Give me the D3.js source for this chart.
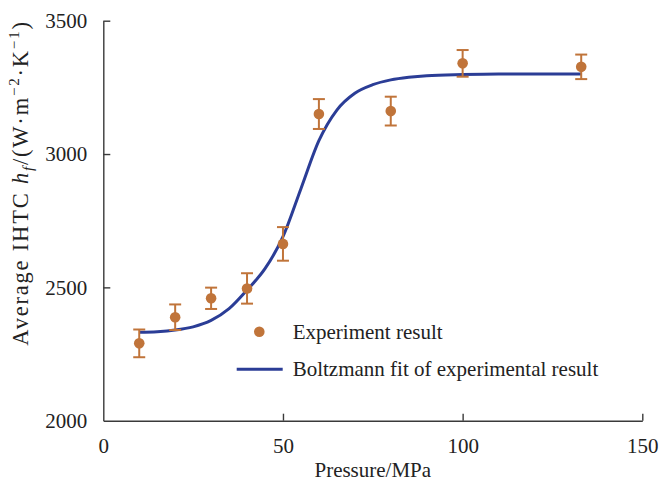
<!DOCTYPE html>
<html lang="en">
<head>
<meta charset="UTF-8">
<script src="https://cdnjs.cloudflare.com/ajax/libs/d3/7.8.5/d3.min.js"></script>
<style>
body { margin: 0; background: white; }
svg { display: block; font-family: "Liberation Serif", "Times New Roman", "DejaVu Serif", serif; }
.axis path, .axis line { stroke: #3a3a3a; stroke-width: 1.4; fill: none; }
.axis text { font-size: 21px; fill: #222; font-family: "Liberation Serif", "Times New Roman", serif; }
</style>
</head>
<body>
<script>
// experiment points
var pressure = [10, 20, 30, 40, 50, 60, 80, 100, 133];
var ihtc = [2290, 2388, 2459, 2496, 2663, 3150, 3161, 3340, 3327];
var errBar = [52, 48, 40, 57, 63, 56, 54, 50, 46];

// Boltzmann fit
var fitPressure = [10, 15, 20, 25, 30, 35, 40, 45, 50, 55, 60, 65, 70, 75, 80, 85, 90, 100, 110, 120, 133];
var fitIhtc = [2332, 2334, 2340, 2352, 2376, 2420, 2490, 2570, 2690, 2870, 3050, 3165, 3228, 3260, 3278, 3288, 3294, 3298, 3300, 3300, 3300];

var xTicks = [0, 50, 100, 150];
var yTicks = [2000, 2500, 3000, 3500];

var W = 661, H = 487;
var margin = {top: 20.7, right: 18.7, bottom: 66.3, left: 103.3};
var width = W - margin.left - margin.right,
    height = H - margin.top - margin.bottom;

var orange = "#c0743a", blue = "#2b3d96";

var svg = d3.select("body").append("svg")
    .attr("width", W).attr("height", H);
var g = svg.append("g")
    .attr("transform", "translate(" + margin.left + "," + margin.top + ")");

var x = d3.scaleLinear().domain([0, 150]).range([0, width]);
var y = d3.scaleLinear().domain([2000, 3500]).range([height, 0]);

var xAxis = d3.axisBottom(x).tickValues(xTicks).tickFormat(d3.format("d"))
    .tickSizeInner(-7).tickSizeOuter(0).tickPadding(17);
var yAxis = d3.axisLeft(y).tickValues(yTicks).tickFormat(d3.format("d"))
    .tickSizeInner(-7).tickSizeOuter(0).tickPadding(16);

var gx = g.append("g").attr("class", "x axis")
    .attr("transform", "translate(0," + height + ")")
    .call(xAxis);
gx.attr("font-family", null);
gx.selectAll(".tick line").filter(d => d === 0).remove();

var gy = g.append("g").attr("class", "y axis")
    .call(yAxis);
gy.attr("font-family", null);
gy.selectAll(".tick line").filter(d => d === 2000).remove();

// fit curve
var fit = fitPressure.map((p, i) => ({p: p, v: fitIhtc[i]}));
var line = d3.line().x(d => x(d.p)).y(d => y(d.v)).curve(d3.curveMonotoneX);
g.append("path").datum(fit)
    .attr("d", line)
    .attr("fill", "none")
    .attr("stroke", blue)
    .attr("stroke-width", 3);

// error bars + points
var pts = pressure.map((p, i) => ({p: p, v: ihtc[i], e: errBar[i]}));
var eb = g.selectAll(".err").data(pts).enter().append("g").attr("class", "err")
    .attr("stroke", orange).attr("stroke-width", 2);
eb.append("line")
    .attr("x1", d => x(d.p)).attr("x2", d => x(d.p))
    .attr("y1", d => y(d.v + d.e)).attr("y2", d => y(d.v - d.e));
eb.append("line")
    .attr("x1", d => x(d.p) - 6).attr("x2", d => x(d.p) + 6)
    .attr("y1", d => y(d.v + d.e)).attr("y2", d => y(d.v + d.e));
eb.append("line")
    .attr("x1", d => x(d.p) - 6).attr("x2", d => x(d.p) + 6)
    .attr("y1", d => y(d.v - d.e)).attr("y2", d => y(d.v - d.e));

g.selectAll(".dot").data(pts).enter().append("circle")
    .attr("class", "dot")
    .attr("cx", d => x(d.p)).attr("cy", d => y(d.v))
    .attr("r", 5.3).attr("fill", orange);

// legend
var legend = svg.append("g").style("font-size", "21px").attr("fill", "#222");
legend.append("circle").attr("cx", 259.3).attr("cy", 331.7).attr("r", 5.3).attr("fill", orange);
legend.append("text").attr("x", 292.7).attr("y", 338.5).text("Experiment result");
legend.append("line").attr("x1", 236.7).attr("x2", 282.7).attr("y1", 369.3).attr("y2", 369.3)
    .attr("stroke", blue).attr("stroke-width", 3);
legend.append("text").attr("x", 292.7).attr("y", 376).text("Boltzmann fit of experimental result");

// axis titles
svg.append("text")
    .attr("x", margin.left + width / 2).attr("y", 477)
    .attr("text-anchor", "middle")
    .style("font-size", "21px").attr("fill", "#222")
    .text("Pressure/MPa");

var yl = svg.append("text")
    .attr("transform", "translate(28," + 183 + ") rotate(-90)")
    .attr("text-anchor", "middle")
    .style("font-size", "22.5px").style("letter-spacing", "1.8px").attr("fill", "#222");
yl.append("tspan").text("Average IHTC ");
yl.append("tspan").style("font-style", "italic").text("h");
yl.append("tspan").style("font-style", "italic").style("font-size", "15px").attr("dy", 5).text("f");
yl.append("tspan").attr("dy", -5).text("/(W·m");
yl.append("tspan").style("font-size", "15px").attr("dy", -9).text("−2");
yl.append("tspan").attr("dy", 9).text("·K");
yl.append("tspan").style("font-size", "15px").attr("dy", -9).text("−1");
yl.append("tspan").attr("dy", 9).text(")");
</script>
</body>
</html>
